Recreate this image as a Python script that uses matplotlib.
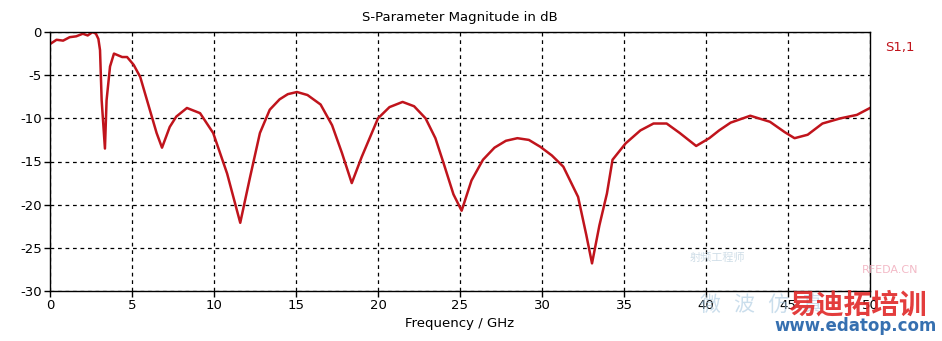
import matplotlib
matplotlib.use("Agg")
import matplotlib.pyplot as plt
import numpy as np

# S1,1 magnitude (dB) versus frequency (GHz)
freq_ghz = [0.0, 0.4, 0.8, 1.2, 1.6, 2.0, 2.3, 2.6, 2.8, 2.95, 3.05, 3.15, 3.35,
            3.45, 3.66, 3.9, 4.15, 4.4, 4.7, 5.1, 5.5, 5.9, 6.5, 6.83, 7.3, 7.7,
            8.35, 9.15, 9.95, 10.8, 11.6, 12.2, 12.8, 13.4, 14.0, 14.5, 15.06,
            15.7, 16.5, 17.2, 17.8, 18.4, 19.0, 20.0, 20.7, 21.5, 22.2, 22.9,
            23.5, 24.0, 24.6, 25.1, 25.7, 26.4, 27.1, 27.8, 28.5, 29.2, 29.9,
            30.6, 31.3, 32.2, 32.7, 33.05, 33.5, 33.96, 34.3, 35.1, 36.0, 36.8,
            37.6, 38.4, 39.4, 40.2, 40.8, 41.5, 42.7, 43.9, 44.8, 45.4, 46.2,
            47.1, 48.2, 49.2, 50.0]
s11_db = [-1.4, -0.9, -1.0, -0.6, -0.5, -0.2, -0.4, 0.0, -0.2, -0.8, -2.1, -7.9, -13.5,
          -7.9, -4.0, -2.5, -2.7, -2.9, -2.9, -3.8, -5.2, -7.8, -11.7, -13.4, -11.0, -9.8,
          -8.8, -9.4, -11.7, -16.4, -22.1, -16.8, -11.7, -9.0, -7.8, -7.2, -6.95,
          -7.3, -8.4, -10.8, -14.0, -17.5, -14.5, -10.0, -8.7, -8.1, -8.6, -10.0,
          -12.3, -15.2, -18.8, -20.7, -17.2, -14.8, -13.4, -12.6, -12.3, -12.5, -13.3,
          -14.3, -15.6, -19.1, -23.5, -26.8, -22.4, -18.7, -14.8, -12.9, -11.4, -10.6,
          -10.6, -11.7, -13.2, -12.3, -11.4, -10.5, -9.7, -10.4, -11.6, -12.3, -11.9,
          -10.6, -10.0, -9.6, -8.8]

x_ticks = [0, 5, 10, 15, 20, 25, 30, 35, 40, 45, 50]
y_ticks = [0, -5, -10, -15, -20, -25, -30]

plt.rcParams['font.family'] = ['DejaVu Sans', 'Noto Sans CJK SC']

fig = plt.figure(figsize=(9.42, 3.41), dpi=100)
W, H = 942, 341
ax = fig.add_axes([50 / W, 1 - 291 / H, 820 / W, 259 / H])

line_color = "#c0141c"
ax.plot(freq_ghz, s11_db, color=line_color, lw=1.8, solid_joinstyle="round")

ax.set_xlim(0, 50)
ax.set_ylim(-30, 0)
ax.set_xticks(x_ticks)
ax.set_yticks(y_ticks)
ax.set_xticklabels([str(v) for v in x_ticks])
ax.set_yticklabels([str(v) for v in y_ticks])
ax.tick_params(axis="both", direction="out", length=4, width=1, labelsize=9.5,
               colors="black", pad=2)
ax.grid(True, color="black", linestyle=(0, (3, 3)), linewidth=0.9)
for s in ax.spines.values():
    s.set_color("black")
    s.set_linewidth(1.0)

ax.set_title("S-Parameter Magnitude in dB", fontsize=9.5, pad=8)
ax.set_xlabel("Frequency / GHz", fontsize=9.5, labelpad=3)

fig.text(885 / W, 1 - 47 / H, "S1,1", color=line_color, fontsize=9.5,
         ha="left", va="center")

# site watermark
fig.text(862 / W, 1 - 270 / H, "RFEDA.CN", color="#f0a8b8", fontsize=8,
         ha="left", va="center", alpha=0.8)
fig.text(690 / W, 1 - 258 / H, "射频工程师", color="#b0c8d8", fontsize=8,
         ha="left", va="center", alpha=0.6)
fig.text(700 / W, 1 - 306 / H, "微  波  仿  真", color="#a8c8e0", fontsize=15,
         ha="left", va="center", alpha=0.6, style="italic")
fig.text(788 / W, 1 - 306 / H, "易迪拓培训", color="#e02828", fontsize=20,
         fontweight="bold", ha="left", va="center", family="Noto Sans CJK SC", alpha=0.9)
fig.text(937 / W, 1 - 326 / H, "www.edatop.com", color="#2060a8", fontsize=12,
         fontweight="bold", ha="right", va="center", alpha=0.9)

fig.savefig("out.png", dpi=100, facecolor="white")
